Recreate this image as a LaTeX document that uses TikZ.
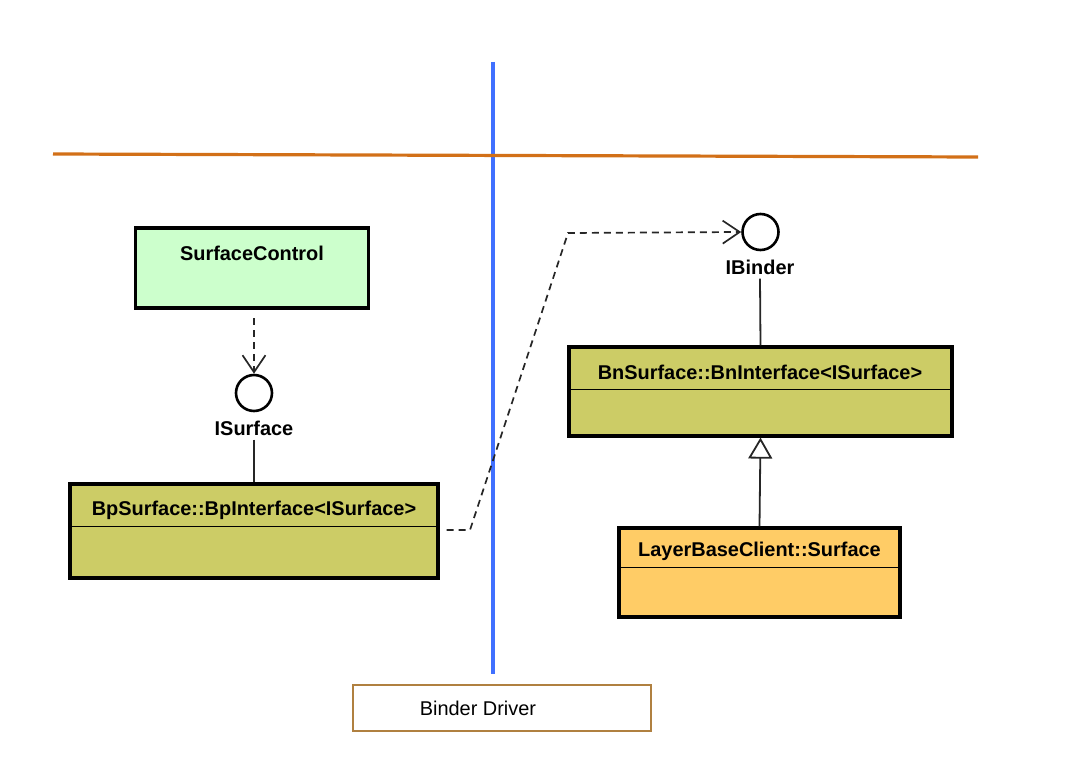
\documentclass[tikz,border=0pt]{standalone}
\usepackage{fontspec}
\setmainfont{Liberation Sans}
\usepackage{xcolor}
\usetikzlibrary{arrows.meta}
\definecolor{greenFill}{RGB}{204, 255, 204}
\definecolor{oliveFill}{RGB}{204, 204, 102}
\definecolor{orangeFill}{RGB}{255, 204, 102}
\definecolor{laneOrange}{RGB}{210, 112, 24}
\definecolor{laneBlue}{RGB}{64, 112, 255}
\definecolor{driverBrown}{RGB}{176, 128, 64}

\begin{document}
\begin{tikzpicture}[x=1bp, y=-1bp,
    classbox/.style={draw=black, line width=3.2bp, inner sep=0pt},
    classtitle/.style={font=\fontsize{20}{24}\selectfont\bfseries, inner sep=0pt},
    lollipop/.style={draw=black, line width=2.6bp, fill=white, circle, inner sep=0pt, minimum size=36bp},
    depline/.style={draw=black!85, line width=1.7bp, dash pattern=on 7bp off 5bp, -{Straight Barb[length=17bp, width=23bp, line width=1.7bp]}},
    solidline/.style={draw=black!85, line width=1.8bp}]
    \useasboundingbox (0,0) rectangle (1070,772);
    % lanes
    \draw[laneBlue, line width=3.2bp] (493,62) -- (493,674);
    \draw[laneOrange, line width=3.2bp] (53,154) -- (978,157);
    % classes
    \node[classbox, fill=greenFill, minimum width=233bp, minimum height=80bp] (sc) at (252,268) {};
    \node[classtitle] (sctitle) at (252,253) {SurfaceControl};
    \node[classbox, fill=oliveFill, minimum width=368bp, minimum height=94bp] (bp) at (254,531) {};
    \node[classtitle] (bptitle) at (254,510) {BpSurface::BpInterface<ISurface>};
    \draw[line width=1.5bp] ([yshift=-44bp]bp.north west) -- ([yshift=-44bp]bp.north east);
    \node[classbox, fill=oliveFill, minimum width=383bp, minimum height=89bp] (bn) at (760.5,391.5) {};
    \node[classtitle] (bntitle) at (760,372) {BnSurface::BnInterface<ISurface>};
    \draw[line width=1.5bp] ([yshift=-44bp]bn.north west) -- ([yshift=-44bp]bn.north east);
    \node[classbox, fill=orangeFill, minimum width=281bp, minimum height=89bp] (lbc) at (759.5,572.5) {};
    \node[classtitle] (lbctitle) at (759.5,551) {LayerBaseClient::Surface};
    \draw[line width=1.5bp] ([yshift=-41bp]lbc.north west) -- ([yshift=-41bp]lbc.north east);
    % interfaces
    \node[lollipop] (isurf) at (254,393) {};
    \node[classtitle] (isurflabel) at (254,428) {ISurface};
    \node[lollipop] (ibinder) at (760.5,232) {};
    \node[classtitle] (ibinderlabel) at (760,267) {IBinder};
    % connectors
    \draw[depline] (254,318) -- (isurf.north);
    \draw[solidline] (isurflabel.south) ++(0,4) -- (bp.north);
    \draw[solidline] (ibinderlabel.south) ++(0,4) -- (bn.north);
    \coordinate (bendlow) at (470,530);
    \coordinate (bendhigh) at (568,233);
    \draw[depline] ([xshift=7bp]bp.east |- bendlow) -- (bendlow) -- (bendhigh) -- (ibinder.west);
    \draw[solidline, -{Triangle[open, length=21bp, width=24bp, line width=1.8bp]}] (lbc.north) -- (bn.south);
    % driver
    \node[draw=driverBrown, line width=1.8bp, minimum width=298bp, minimum height=46bp] (driver) at (502,708) {};
    \node[font=\fontsize{20}{24}\selectfont, inner sep=0pt] (drivertext) at (478,708) {Binder Driver};
\end{tikzpicture}
\end{document}
